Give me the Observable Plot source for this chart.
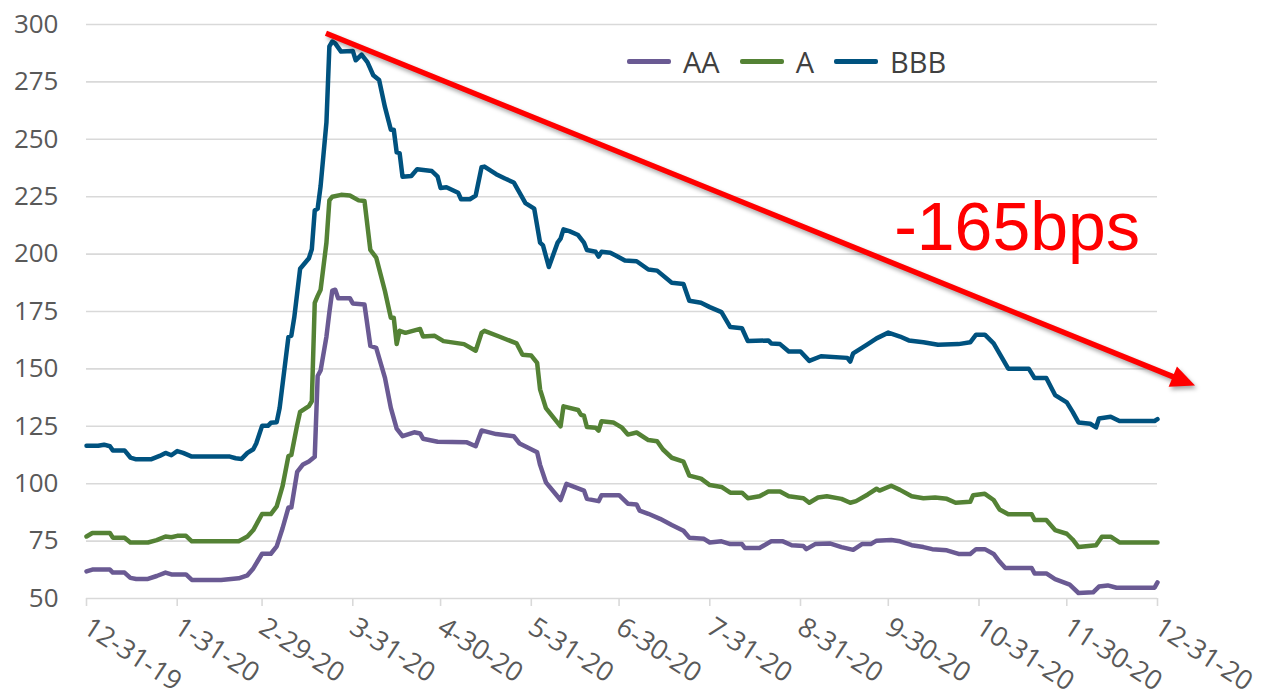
<!DOCTYPE html>
<html><head><meta charset="utf-8">
<script src="https://cdn.jsdelivr.net/npm/d3@7"></script>
<script src="https://cdn.jsdelivr.net/npm/@observablehq/plot@0.6"></script>
<style>
body{margin:0;background:#fff;}
#wrap{position:relative;width:1270px;height:698px;overflow:hidden;}
.legend{position:absolute;top:42px;left:627px;display:flex;align-items:center;font-family:"Open Sans",sans-serif;font-size:29px;color:#404040;}
.legend .item{display:flex;align-items:center;margin-right:20px;}
.legend .sw{width:44px;height:4.5px;border-radius:2px;margin-right:12px;}
</style></head><body><div id="wrap"></div>
<script>
const seriesNames = ["AA", "A", "BBB"];
const seriesColors = ["#6A5A93", "#548235", "#00527F"];
const yTicks = [50, 75, 100, 125, 150, 175, 200, 225, 250, 275, 300];
const xTicks = ["2019-12-31","2020-01-31","2020-02-29","2020-03-31","2020-04-30","2020-05-31","2020-06-30","2020-07-31","2020-08-31","2020-09-30","2020-10-31","2020-11-30","2020-12-31"];

const AA = [["2019-12-31",61.8],["2020-01-02",62.6],["2020-01-08",62.6],["2020-01-09",61.3],["2020-01-13",61.3],["2020-01-15",59],["2020-01-17",58.5],["2020-01-21",58.5],["2020-01-24",59.8],["2020-01-27",61.3],["2020-01-29",60.5],["2020-02-03",60.5],["2020-02-05",58.1],["2020-02-15",58.1],["2020-02-21",58.8],["2020-02-24",60.1],["2020-02-26",63.1],["2020-02-29",69.5],["2020-03-03",69.5],["2020-03-05",72.7],["2020-03-07",80.6],["2020-03-09",89.6],["2020-03-10",89.6],["2020-03-12",105.1],["2020-03-14",108.4],["2020-03-16",109.7],["2020-03-18",111.7],["2020-03-19",146.9],["2020-03-20",149.3],["2020-03-22",164.1],["2020-03-23",174.7],["2020-03-24",184.1],["2020-03-25",184.5],["2020-03-26",180.8],["2020-03-30",180.8],["2020-03-31",178.5],["2020-04-04",178],["2020-04-06",160],["2020-04-08",159.2],["2020-04-11",146.1],["2020-04-13",133],["2020-04-15",124],["2020-04-17",120.7],["2020-04-21",122.4],["2020-04-23",121.9],["2020-04-24",119.6],["2020-04-29",118.3],["2020-05-09",118],["2020-05-12",116.3],["2020-05-14",123.2],["2020-05-19",121.6],["2020-05-25",120.7],["2020-05-27",117.5],["2020-06-02",113.7],["2020-06-03",108.2],["2020-06-05",100.6],["2020-06-10",92.9],["2020-06-12",99.9],["2020-06-18",97],["2020-06-19",93.4],["2020-06-23",92.4],["2020-06-24",95],["2020-06-30",95],["2020-07-03",91.3],["2020-07-06",90.9],["2020-07-07",88.3],["2020-07-10",86.9],["2020-07-14",84.7],["2020-07-18",82],["2020-07-22",79.5],["2020-07-24",76.5],["2020-07-29",76],["2020-07-31",74.4],["2020-08-04",74.9],["2020-08-07",73.7],["2020-08-11",73.7],["2020-08-12",72],["2020-08-17",72],["2020-08-21",74.9],["2020-08-25",74.9],["2020-08-28",73.2],["2020-09-01",72.9],["2020-09-02",71.5],["2020-09-05",73.7],["2020-09-10",74],["2020-09-14",72.4],["2020-09-18",71.2],["2020-09-21",73.7],["2020-09-24",73.7],["2020-09-26",75.2],["2020-10-01",75.5],["2020-10-04",74.9],["2020-10-08",73.2],["2020-10-12",72.4],["2020-10-15",71.5],["2020-10-20",71],["2020-10-24",69.4],["2020-10-28",69.4],["2020-10-30",71.5],["2020-11-02",71.5],["2020-11-05",69.4],["2020-11-07",66.1],["2020-11-09",63.3],["2020-11-18",63.3],["2020-11-19",60.9],["2020-11-23",60.9],["2020-11-26",58.4],["2020-12-01",56],["2020-12-04",52.4],["2020-12-09",52.7],["2020-12-11",55.2],["2020-12-14",55.7],["2020-12-17",54.7],["2020-12-30",54.7],["2020-12-31",57]];

const A = [["2019-12-31",77],["2020-01-02",78.5],["2020-01-08",78.5],["2020-01-09",76.5],["2020-01-13",76.5],["2020-01-15",74.4],["2020-01-21",74.4],["2020-01-24",75.4],["2020-01-27",77],["2020-01-29",76.7],["2020-01-31",77.3],["2020-02-03",77.3],["2020-02-05",74.9],["2020-02-21",74.9],["2020-02-24",77],["2020-02-26",79.8],["2020-02-29",86.8],["2020-03-03",86.8],["2020-03-05",90.1],["2020-03-07",98.9],["2020-03-09",112],["2020-03-10",112.5],["2020-03-12",125.6],["2020-03-13",131.3],["2020-03-16",133.8],["2020-03-17",135.9],["2020-03-18",178.8],["2020-03-19",181.8],["2020-03-20",184.5],["2020-03-22",205],["2020-03-23",223.4],["2020-03-24",225],["2020-03-27",225.8],["2020-03-30",225.5],["2020-04-02",223.4],["2020-04-04",223.1],["2020-04-06",201.8],["2020-04-08",198.5],["2020-04-11",183.8],["2020-04-13",172.3],["2020-04-14",172.3],["2020-04-15",160.8],["2020-04-16",166.6],["2020-04-18",165.7],["2020-04-23",167.4],["2020-04-24",164.1],["2020-04-28",164.4],["2020-05-01",162.1],["2020-05-08",160.8],["2020-05-12",157.9],["2020-05-14",165.7],["2020-05-15",166.6],["2020-05-20",164.1],["2020-05-26",161.1],["2020-05-28",156.2],["2020-05-31",155.8],["2020-06-02",152.6],["2020-06-03",141.1],["2020-06-05",132.9],["2020-06-10",125],["2020-06-11",133.7],["2020-06-16",132.1],["2020-06-17",130],["2020-06-18",129.6],["2020-06-19",124.7],["2020-06-22",124.4],["2020-06-23",123.1],["2020-06-24",127.2],["2020-06-28",126.7],["2020-07-01",124.4],["2020-07-03",121.4],["2020-07-06",122.3],["2020-07-10",119],["2020-07-13",118.5],["2020-07-15",114.9],["2020-07-18",111.3],["2020-07-22",109.6],["2020-07-24",103.5],["2020-07-28",102.2],["2020-07-31",99.4],["2020-08-04",98.6],["2020-08-07",96.1],["2020-08-11",96.1],["2020-08-13",93.7],["2020-08-17",94.5],["2020-08-20",96.6],["2020-08-24",96.6],["2020-08-27",94.5],["2020-09-01",93.7],["2020-09-03",91.7],["2020-09-06",94],["2020-09-09",94.5],["2020-09-14",93.4],["2020-09-17",91.7],["2020-09-19",92.4],["2020-09-23",95.3],["2020-09-26",97.8],["2020-09-27",97],["2020-10-01",99.1],["2020-10-04",97.3],["2020-10-08",94.5],["2020-10-12",93.7],["2020-10-16",94],["2020-10-20",93.4],["2020-10-23",91.7],["2020-10-28",92.1],["2020-10-29",95],["2020-11-02",95.6],["2020-11-05",92.9],["2020-11-07",88.8],["2020-11-10",86.7],["2020-11-18",86.7],["2020-11-19",84.2],["2020-11-23",84.2],["2020-11-26",79.8],["2020-11-30",78.2],["2020-12-02",75.7],["2020-12-04",72.4],["2020-12-10",73.2],["2020-12-12",76.9],["2020-12-15",76.9],["2020-12-18",74.4],["2020-12-31",74.4]];

const BBB = [["2019-12-31",116.5],["2020-01-04",116.5],["2020-01-06",117],["2020-01-08",116.3],["2020-01-09",114.5],["2020-01-13",114.5],["2020-01-15",111.4],["2020-01-17",110.6],["2020-01-22",110.6],["2020-01-25",112.1],["2020-01-27",113.4],["2020-01-29",112.4],["2020-01-31",114.2],["2020-02-02",113.4],["2020-02-05",111.8],["2020-02-18",111.8],["2020-02-20",111.1],["2020-02-22",110.8],["2020-02-24",113.4],["2020-02-26",115],["2020-02-27",117.5],["2020-02-29",125.2],["2020-03-02",125.2],["2020-03-03",126.5],["2020-03-05",126.8],["2020-03-06",133],["2020-03-09",163.9],["2020-03-10",164.5],["2020-03-11",172.4],["2020-03-13",193.6],["2020-03-16",198.2],["2020-03-17",202.1],["2020-03-18",219],["2020-03-19",219.8],["2020-03-20",229.6],["2020-03-22",257.4],["2020-03-23",290.5],["2020-03-24",292.6],["2020-03-25",291.8],["2020-03-27",288.2],["2020-03-31",288.5],["2020-04-01",284.4],["2020-04-03",286.9],["2020-04-05",283.6],["2020-04-07",277.9],["2020-04-09",275.8],["2020-04-11",264],["2020-04-13",254.2],["2020-04-14",254.2],["2020-04-15",244.3],["2020-04-16",244],["2020-04-17",233.7],["2020-04-20",234],["2020-04-22",237],["2020-04-27",236.2],["2020-04-29",233.7],["2020-04-30",228.8],["2020-05-02",229.1],["2020-05-06",226.7],["2020-05-07",223.9],["2020-05-10",223.9],["2020-05-12",225.5],["2020-05-14",237.8],["2020-05-15",238.1],["2020-05-19",234.8],["2020-05-22",232.9],["2020-05-25",231.2],["2020-05-29",222.2],["2020-06-01",219.8],["2020-06-03",205],["2020-06-04",203.8],["2020-06-06",194.4],["2020-06-09",205],["2020-06-10",206.7],["2020-06-11",210.8],["2020-06-13",210],["2020-06-16",208.3],["2020-06-18",205],["2020-06-19",201.8],["2020-06-22",201],["2020-06-23",198.9],["2020-06-24",201],["2020-06-27",200.6],["2020-06-29",199.3],["2020-07-02",197.2],["2020-07-06",196.9],["2020-07-10",193.3],["2020-07-13",192.8],["2020-07-18",187.5],["2020-07-22",187],["2020-07-24",179.7],["2020-07-28",178.8],["2020-07-31",176.9],["2020-08-04",174.7],["2020-08-07",168.2],["2020-08-11",167.7],["2020-08-13",162.1],["2020-08-20",162.4],["2020-08-21",161.1],["2020-08-24",160.8],["2020-08-27",157.6],["2020-08-31",157.6],["2020-09-03",153.5],["2020-09-07",155.5],["2020-09-16",154.8],["2020-09-17",153.2],["2020-09-18",156.8],["2020-09-23",160.8],["2020-09-26",163.3],["2020-09-30",165.8],["2020-10-04",164.1],["2020-10-07",162.4],["2020-10-12",161.6],["2020-10-17",160.5],["2020-10-24",160.8],["2020-10-28",161.6],["2020-10-30",164.9],["2020-11-02",164.9],["2020-11-05",161.1],["2020-11-10",150.1],["2020-11-17",150.1],["2020-11-19",146],["2020-11-23",146],["2020-11-26",138.6],["2020-11-30",135.4],["2020-12-02",131.3],["2020-12-04",126.7],["2020-12-08",126.1],["2020-12-10",124.5],["2020-12-11",128.4],["2020-12-15",129.2],["2020-12-18",127.3],["2020-12-30",127.3],["2020-12-31",128.1]];

// annotation
const arrowFrom = ["2020-03-22", 296];
const arrowTo = ["2021-01-13", 142.5];
const noteText = ["-165bps"];
const notePos = ["2020-10-02", 201.6];

const parse = d3.utcParse("%Y-%m-%d");
const seriesData = [AA, A, BBB];
const rows = seriesData.flatMap((arr, i) => arr.map(([d, v]) => ({date: parse(d), value: v, series: seriesNames[i]})));

const fmt = d3.utcFormat("%-m-%-d-%y");

function trendArrow(index, scales, values, dimensions, context) {
  const ns = "http://www.w3.org/2000/svg";
  const g = document.createElementNS(ns, "g");
  const x1 = scales.x(parse(arrowFrom[0])), y1 = scales.y(arrowFrom[1]);
  const x2 = scales.x(parse(arrowTo[0])), y2 = scales.y(arrowTo[1]);
  const dx = x2 - x1, dy = y2 - y1, L = Math.hypot(dx, dy);
  const ux = dx / L, uy = dy / L;
  const hl = 24, hw = 11;
  const bx = x2 - ux * hl, by = y2 - uy * hl;
  g.setAttribute("style", "filter: drop-shadow(2px 3px 2px rgba(0,0,0,0.35))");
  const line = document.createElementNS(ns, "line");
  line.setAttribute("x1", x1); line.setAttribute("y1", y1);
  line.setAttribute("x2", bx + ux * 2); line.setAttribute("y2", by + uy * 2);
  line.setAttribute("stroke", "#FF0000"); line.setAttribute("stroke-width", 5.5);
  g.appendChild(line);
  const poly = document.createElementNS(ns, "polygon");
  const px = -uy, py = ux;
  poly.setAttribute("points", `${x2},${y2} ${bx + px * hw},${by + py * hw} ${bx - px * hw},${by - py * hw}`);
  poly.setAttribute("fill", "#FF0000");
  g.appendChild(poly);
  return g;
}

const chart = Plot.plot({
  width: 1270,
  height: 698,
  marginLeft: 86,
  marginRight: 113,
  marginTop: 24,
  marginBottom: 100,
  style: {fontFamily: "'Open Sans', sans-serif", fontSize: "25px", color: "#595959", background: "#fff", overflow: "visible"},
  x: {type: "utc", domain: [parse(xTicks[0]), parse(xTicks[xTicks.length - 1])]},
  y: {domain: [50, 300]},
  color: {domain: seriesNames, range: seriesColors},
  marks: [
    Plot.ruleY(yTicks, {stroke: "#d9d9d9", strokeWidth: 1.6}),
    Plot.axisY({ticks: yTicks, tickSize: 0, tickPadding: 28, label: null, fill: "#595959", fontSize: 26}),
    Plot.axisX({ticks: xTicks.map(parse), tickFormat: fmt, tickSize: 8, tickPadding: 18, tickRotate: 33, stroke: "#d9d9d9", strokeWidth: 1.6, fill: "#595959", label: null, fontSize: 27}),
    Plot.line(rows, {x: "date", y: "value", z: "series", stroke: "series", strokeWidth: 4.5, strokeLinejoin: "round", strokeLinecap: "round"}),
    trendArrow,
    Plot.text(noteText, {x: () => parse(notePos[0]), y: () => notePos[1], text: d => d, textAnchor: "start", lineAnchor: "bottom", fill: "#FF0000", fontSize: 68, fontFamily: "'Liberation Sans', sans-serif"})
  ]
});

const wrap = document.getElementById("wrap");
wrap.appendChild(chart);
const legend = document.createElement("div");
legend.className = "legend";
seriesNames.forEach((n, i) => {
  const it = document.createElement("div");
  it.className = "item";
  it.innerHTML = `<span class="sw" style="background:${seriesColors[i]}"></span><span>${n}</span>`;
  legend.appendChild(it);
});
wrap.appendChild(legend);
</script>
</body></html>
